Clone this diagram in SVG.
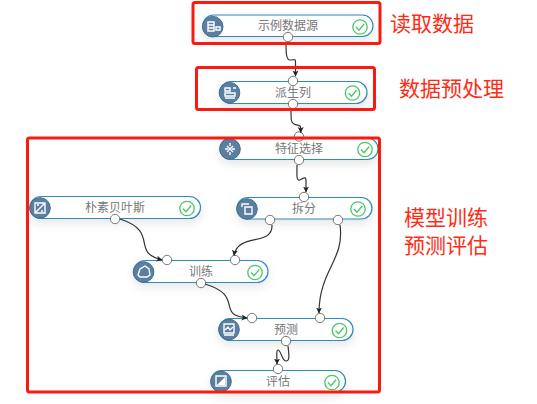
<svg xmlns="http://www.w3.org/2000/svg" width="537" height="404" viewBox="0 0 537 404">
<defs>
<filter id="sh" x="-15%" y="-60%" width="130%" height="260%"><feDropShadow dx="0" dy="4" stdDeviation="5" flood-color="#000" flood-opacity="0.10"/></filter>
<marker id="arr" markerWidth="7" markerHeight="7" refX="5.5" refY="3" orient="auto" markerUnits="userSpaceOnUse"><path d="M0,0L6,3L0,6L1.500,3Z" fill="#222"/></marker>
<g id="chk"><circle r="7.200" fill="#fff" stroke="#4cc768" stroke-width="1.300"/><path d="M-4,0L-1,3.200L4.200,-3" fill="none" stroke="#4cc768" stroke-width="1.300"/></g>
</defs>
<style>
.pill{fill:#fff;stroke:#2f8cb5;stroke-width:1.200;filter:url(#sh)}
.ic{fill:#5c7f9f;stroke:#3f6f96;stroke-width:1}
.gl{fill:none;stroke:#fff;stroke-width:1.400}
.port{fill:#fff;stroke:#777;stroke-width:1}
.lb{font-family:"Noto Sans CJK SC","Liberation Sans",sans-serif;font-size:12px;fill:#777;text-anchor:middle}
.red{font-family:"Noto Sans CJK SC","Liberation Sans",sans-serif;font-size:21px;fill:#fe2c14}
.box{fill:none;stroke:#fb1a10;stroke-width:3}
.c{fill:none;stroke:#333;stroke-width:1.200;marker-end:url(#arr)}
</style>
<rect width="537" height="404" fill="#fff"/>
<g id="node-shili"><rect class="pill" x="203" y="15" width="170" height="21.500" rx="10.700"/><circle class="ic" cx="212.700" cy="26.700" r="10.300"/><path class="gl" d="M208,22h6v9h-6zM208,25h6M208,28h6M216,27h4v3h-4z"/><text class="lb" x="288" y="30">示例数据源</text><use href="#chk" x="360" y="27"/><circle class="port" cx="288" cy="37" r="4.700"/></g>
<g id="node-paisheng"><rect class="pill" x="220" y="81.500" width="147" height="22" rx="11"/><circle class="ic" cx="229.500" cy="92.700" r="10.300"/><path class="gl" d="M225,88h5v3h-5zM225,93h10v3h-10zM225,98h10M233,88h3"/><text class="lb" x="293" y="97">派生列</text><use href="#chk" x="352.500" y="93"/><circle class="port" cx="293" cy="81" r="4.700"/><circle class="port" cx="293" cy="104" r="4.700"/></g>
<g id="node-tezheng"><rect class="pill" x="220" y="138" width="158" height="21.500" rx="10.700"/><circle class="ic" cx="230" cy="149" r="10.300"/><path class="gl" stroke-width="2" d="M230,143v3M225,149h3M232,149h3M230,152v3M227,146l6,6M233,146l-6,6"/><text class="lb" x="299" y="153">特征选择</text><use href="#chk" x="365" y="149.500"/><circle class="port" cx="299" cy="136.500" r="4.700"/><circle class="port" cx="299" cy="160" r="4.700"/></g>
<g id="node-chaifen"><rect class="pill" x="237" y="197.500" width="135" height="21.500" rx="10.700"/><circle class="ic" cx="247" cy="209" r="10.300"/><path class="gl" d="M242,207v-3h7M252,211v3h-7M245,207h7v7h-7z"/><text class="lb" x="304" y="213">拆分</text><use href="#chk" x="358" y="209"/><circle class="port" cx="304" cy="197" r="4.700"/><circle class="port" cx="270" cy="220" r="4.700"/><circle class="port" cx="338" cy="220" r="4.700"/></g>
<g id="node-bayes"><rect class="pill" x="30" y="196.500" width="170.500" height="22" rx="11"/><circle class="ic" cx="40" cy="208" r="10.300"/><path class="gl" d="M35,203h10v10h-10zM36,212l8,-8M37,205h2M41,211h2"/><text class="lb" x="115" y="212">朴素贝叶斯</text><use href="#chk" x="187" y="208.500"/><circle class="port" cx="115" cy="219" r="4.700"/></g>
<g id="node-xunlian"><rect class="pill" x="134" y="260.500" width="134" height="22" rx="11"/><circle class="ic" cx="143.500" cy="272" r="10.300"/><path class="gl" d="M138,275l2,-6l5,-3l4,3l1,6l-3,2h-7z"/><text class="lb" x="201" y="276">训练</text><use href="#chk" x="255" y="272.500"/><circle class="port" cx="167" cy="260" r="4.700"/><circle class="port" cx="235" cy="260" r="4.700"/><circle class="port" cx="201" cy="283" r="4.700"/></g>
<g id="node-yuce"><rect class="pill" x="219" y="318.500" width="134" height="22" rx="11"/><circle class="ic" cx="229" cy="329.500" r="10.300"/><path class="gl" d="M224,324h10v9h-10zM225,330l3,-3l2,3l3,-3M224,335h10"/><text class="lb" x="286" y="334">预测</text><use href="#chk" x="339.500" y="330.500"/><circle class="port" cx="252" cy="318" r="4.700"/><circle class="port" cx="320" cy="318" r="4.700"/><circle class="port" cx="286" cy="341" r="4.700"/></g>
<g id="node-pinggu"><rect class="pill" x="211" y="370.500" width="134.500" height="21.500" rx="10.700"/><circle class="ic" cx="221" cy="381.500" r="10.300"/><path class="gl" d="M216,376h10v10h-10z"/><path d="M217,385l8,-8v8z" fill="#fff"/><text class="lb" x="278" y="386">评估</text><use href="#chk" x="332" y="382.500"/><circle class="port" cx="278" cy="369" r="4.700"/></g>
<g id="connectors">
<path class="c" d="M286,42C286,52 286,60 290,60C295,60 295.500,58 295.500,63L295.500,76"/>
<path class="c" d="M291,109C291,120 291,123 294,124C298,126 300.700,124 300.700,128L300.700,132.500"/>
<path class="c" d="M297,165C297,175 296,181 300,180C304,178 306,176 306,181L306,192"/>
<path class="c" d="M272,225C273,247 238,232 234,255.500"/>
<path class="c" d="M340,225C345,260 319,270 319,313"/>
<path class="c" d="M120,219C160,232 130,252 162,260"/>
<path class="c" d="M205,284C245,296 215,315 247,318"/>
<path class="c" d="M288,346C289,355 290,361 286,361C282,361 281,350 278,350C276,350 277,358 277,364"/>
</g>
<g id="frames"><rect class="box" x="193" y="2.500" width="187" height="41" rx="2"/><rect class="box" x="196.500" y="67.500" width="178" height="42" rx="2"/><rect class="box" x="27.500" y="138" width="352" height="254" rx="2"/></g>
<g id="labels"><text class="red" x="390" y="31">读取数据</text><text class="red" x="399" y="96">数据预处理</text><text class="red" x="404" y="225">模型训练</text><text class="red" x="404" y="253">预测评估</text></g>
</svg>
